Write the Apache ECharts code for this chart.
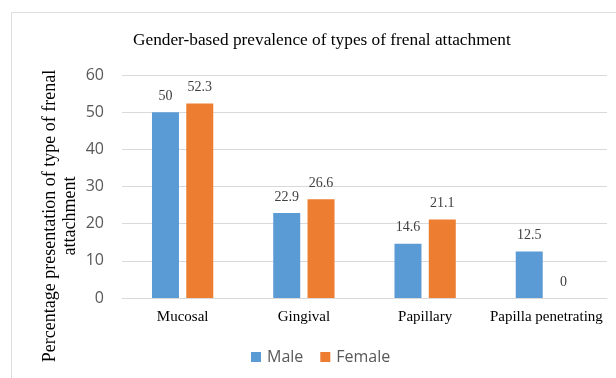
<!DOCTYPE html>
<html>
<head>
<meta charset="utf-8">
<script src="https://cdn.jsdelivr.net/npm/echarts@6/dist/echarts.min.js"></script>
<style>
html,body{margin:0;padding:0;background:#fff;}
#chart{width:616px;height:378px;}
</style>
</head>
<body>
<div id="chart"></div>
<script>
var categories = ['Mucosal', 'Gingival', 'Papillary', 'Papilla penetrating'];
var maleValues = [50, 22.9, 14.6, 12.5];
var femaleValues = [52.3, 26.6, 21.1, 0];
var seriesNames = ['Male', 'Female'];
var yTicks = [0, 10, 20, 30, 40, 50, 60];
var titleText = 'Gender-based prevalence of types of frenal attachment';
var yAxisTitle = 'Percentage presentation of type of frenal\nattachment';

var chart = echarts.init(document.getElementById('chart'), null, {renderer: 'canvas'});
var serif = '"Liberation Serif", "DejaVu Serif", serif';
var sans = '"Open Sans", "Noto Sans", sans-serif';
var labelStyle = {
  show: true, position: 'top', distance: 9,
  fontFamily: serif, fontSize: 14, color: '#404040'
};
chart.setOption({
  backgroundColor: '#ffffff',
  animation: false,
  title: {
    text: titleText, left: 128, top: 27,
    textStyle: {fontFamily: serif, fontSize: 17.3, fontWeight: 'normal', color: '#000000'}
  },
  graphic: [
    {type: 'rect', shape: {x: 11.5, y: 12.5, width: 700, height: 500},
     style: {fill: 'none', stroke: '#DDDDDD', lineWidth: 1}, silent: true, z: -10},
    {type: 'text', x: 60, y: 216, rotation: Math.PI / 2,
     style: {text: yAxisTitle, fontFamily: serif, fontSize: 18, fill: '#000000',
             align: 'center', verticalAlign: 'middle', lineHeight: 20}}
  ],
  legend: {
    data: seriesNames, bottom: 8, left: 246,
    itemWidth: 10, itemHeight: 10, itemGap: 17,
    icon: 'rect',
    textStyle: {fontFamily: sans, fontSize: 16, color: '#595959', padding: [0, 0, 0, 1]}
  },
  grid: {left: 122, right: 9, top: 75, bottom: 80, containLabel: false},
  xAxis: {
    type: 'category', data: categories,
    axisLine: {show: true, lineStyle: {color: '#D9D9D9'}},
    axisTick: {show: false},
    axisLabel: {fontFamily: serif, fontSize: 15, color: '#000000', margin: 12, interval: 0}
  },
  yAxis: {
    type: 'value', min: yTicks[0], max: yTicks[yTicks.length - 1], interval: 10,
    axisLine: {show: false}, axisTick: {show: false},
    splitLine: {lineStyle: {color: '#D9D9D9'}},
    axisLabel: {fontFamily: sans, fontSize: 16, color: '#595959', margin: 18}
  },
  series: [
    {name: seriesNames[0], type: 'bar', data: maleValues, barWidth: 27, barGap: '27%',
     itemStyle: {color: '#5B9BD5'}, label: labelStyle},
    {name: seriesNames[1], type: 'bar', data: femaleValues, barWidth: 27, barGap: '27%',
     itemStyle: {color: '#ED7D31'}, label: labelStyle}
  ]
});
</script>
</body>
</html>
